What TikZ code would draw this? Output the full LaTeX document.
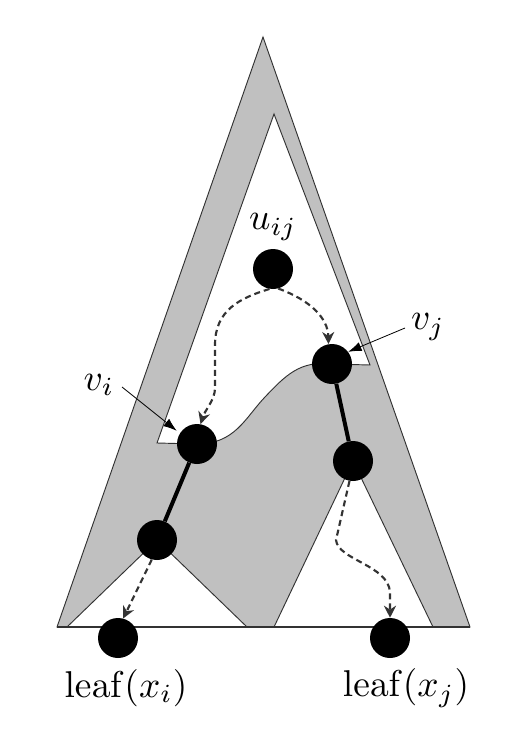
\documentclass[tikz,border=0pt]{standalone}
\usepackage{tikz}
\usepackage{xcolor}
\usetikzlibrary{arrows.meta}

\definecolor{treegray}{RGB}{192,192,192}
\definecolor{rimgray}{RGB}{50,50,50}

\begin{document}
\begin{tikzpicture}[x=0.75pt,y=0.75pt,yscale=-1,xscale=1,
  region/.style={draw=rimgray,line width=0.7pt},
  dot/.style={circle,fill=black,minimum size=30pt,inner sep=0pt},
  lbl/.style={inner sep=0.75pt,scale=2.8},
  walk/.style={line width=1.6pt,color=black!80,dash pattern=on 4.5pt off 3pt,-{Stealth[length=9pt,width=9pt]}},
  pointer/.style={line width=0.6pt,-{Latex[length=10pt,width=7pt]}},
  branch/.style={line width=3pt}]
\useasboundingbox (0,0) rectangle (518,731);

%Points of the tree
\coordinate (pu) at (273,269);
\coordinate (pvj) at (332,364);
\coordinate (pvi) at (197,444);
\coordinate (pwi) at (157,540);
\coordinate (pwj) at (353,461);
\coordinate (pleafi) at (118,638);
\coordinate (pleafj) at (390,638);

%Shape: Outer triangle
\draw [region,fill=treegray] (57,627) -- (263,37) -- (470,627) -- cycle ;
%Shape: Upper white part
\draw [region,fill=white] (274,114) -- (157,443) -- (pvi)
  .. controls (235,444) and (245,418) .. (265,397)
  .. controls (285,376) and (300,360) .. (pvj) -- (370,365) -- cycle ;
%Shape: Left subtree
\draw [region,fill=white] (pwi) -- (247,627) -- (67,627) -- cycle ;
%Shape: Right subtree
\draw [region,fill=white] (pwj) -- (433,627) -- (274,627) -- cycle ;
%Straight Lines: base
\draw [region,line width=0.9pt] (57,627) -- (470,627) ;

%Nodes
\node [dot] (uij) at (pu) {};
\node [dot] (vj) at (pvj) {};
\node [dot] (vi) at (pvi) {};
\node [dot] (wi) at (pwi) {};
\node [dot] (wj) at (pwj) {};
\node [dot] (leafi) at (pleafi) {};
\node [dot] (leafj) at (pleafj) {};

%Thick paths
\draw [branch] (vi) -- (wi) ;
\draw [branch] (vj) -- (wj) ;

%Dashed walks
\draw [walk] (uij.-75) .. controls (310,300) and (328,318) .. (vj.100) ;
\draw [walk] (uij.-100) .. controls (240,298) and (215,310) .. (215,345) -- (215,388) .. controls (215,400) and (205,410) .. (vi.80) ;
\draw [walk] (wi.-105) -- (leafi.75) ;
\draw [walk] (wj.-100) -- (336,540) .. controls (338,560) and (388,565) .. (390,592) -- (leafj.north) ;

% Text Node
\draw (273,227) node [lbl] (uijlbl) {$u_{ij}$};
% Text Node
\draw (428,327) node [lbl] (vjlbl) {$v_j$};
% Text Node
\draw (99,385) node [lbl] (vilbl) {$v_i$};
% Text Node
\draw (126,688) node [lbl] (leafilbl) {$\mathrm{leaf}(x_i)$};
% Text Node
\draw (406,688) node [lbl] (leafjlbl) {$\mathrm{leaf}(x_j)$};

%Pointers
\coordinate (vjtail) at (405,328);
\coordinate (vitail) at (122,387);
\draw [pointer] (vjtail) -- (vj.37) ;
\draw [pointer,shorten >=3pt] (vitail) -- (vi.148) ;

\end{tikzpicture}
\end{document}
